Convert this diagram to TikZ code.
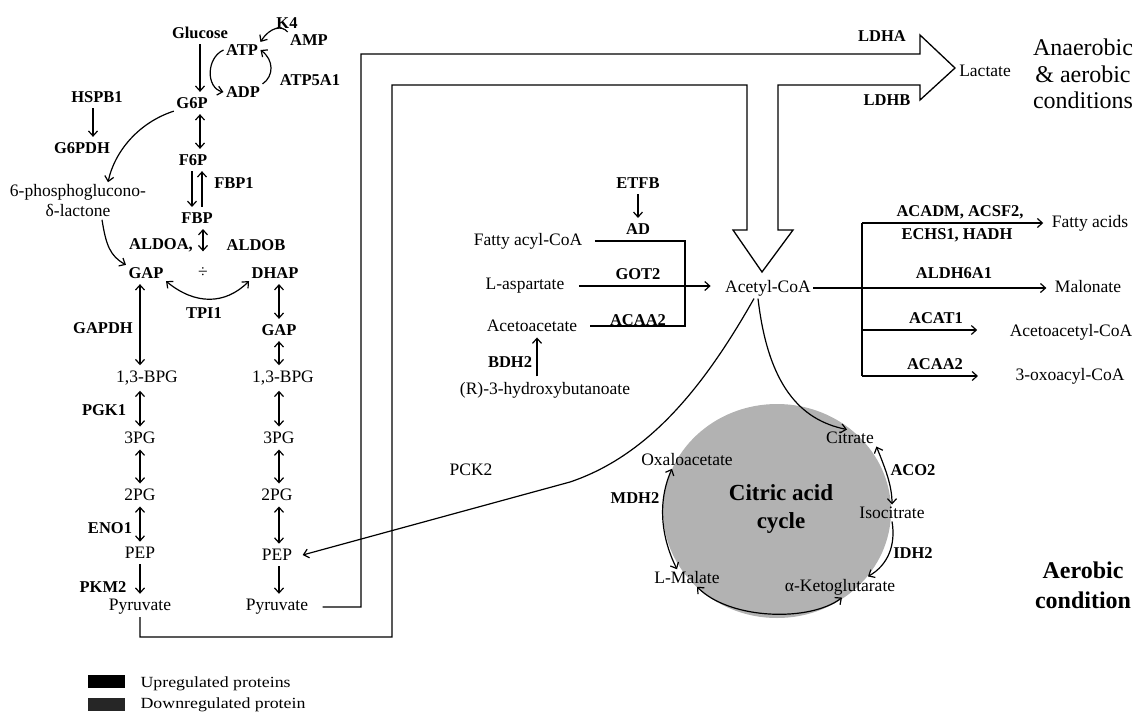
\documentclass[tikz,border=0pt]{standalone}
\usepackage{fontspec}
\usepackage{graphicx}
\setmainfont{Liberation Serif}
\usetikzlibrary{arrows.meta}

\begin{document}
\begin{tikzpicture}[
        x=1pt, y=-1pt,
        >={Straight Barb[length=5pt,width=9pt]},
        line width=1.2pt,
        met/.style={font=\fontsize{17.5}{20}\selectfont, inner sep=2pt},
        enz/.style={font=\bfseries\fontsize{16.5}{19}\selectfont, inner sep=2pt},
        cond/.style={font=\fontsize{24}{26.5}\selectfont, align=center},
        pipe/.style={line width=1.3pt, line join=miter},
        rx/.style={<->, shorten <=3pt, shorten >=3pt},
        fw/.style={->, shorten <=3pt, shorten >=3pt},
        legbox/.style={minimum width=37pt, minimum height=13pt, inner sep=0pt}
    ]
        \useasboundingbox (0,0) rectangle (1137,715);

        % glycolysis, upper part
        \node[enz] (glc) at (200,33) {Glucose};
        \node[enz] (atp) at (242,50) {ATP};
        \node[enz] (adp) at (243,92) {ADP};
        \node[enz] (kfour) at (287,23) {K4};
        \node[enz] (amp) at (309,40) {AMP};
        \node[enz] (atpsyn) at (310,80) {ATP5A1};
        \node[enz] (gsixp) at (192,103) {G6P};
        \node[enz] (hspb) at (97,97) {HSPB1};
        \node[enz] (gpdh) at (82,148) {G6PDH};
        \node[met, align=center] (pgl) at (78,201) {6-phosphoglucono-\\δ-lactone};
        \node[enz] (fsixp) at (193,160) {F6P};
        \node[enz] (fbpone) at (234,183) {FBP1};
        \node[enz] (fbp) at (197,218) {FBP};
        \node[enz] (aldoa) at (161,245) {ALDOA,};
        \node[enz] (aldob) at (256,245) {ALDOB};
        \node[enz] (gapL) at (146,273) {GAP};
        \node[met] (plus) at (203,273) {÷};
        \node[enz] (dhap) at (275,273) {DHAP};
        \node[enz] (tpi) at (204,313) {TPI1};
        \node[enz] (gapdh) at (103,328) {GAPDH};

        % glycolysis, two columns
        \node[met] (bpgL) at (147,378) {1,3-BPG};
        \node[met] (tpgL) at (140,438) {3PG};
        \node[met] (dpgL) at (140,495) {2PG};
        \node[met] (pepL) at (140,553) {PEP};
        \node[met] (pyrL) at (140,607) {Pyruvate};
        \node[enz] (pgk) at (104,410) {PGK1};
        \node[enz] (eno) at (110,528) {ENO1};
        \node[enz] (pkm) at (103,587) {PKM2};
        \node[enz] (gapR) at (279,330) {GAP};
        \node[met] (bpgR) at (283,378) {1,3-BPG};
        \node[met] (tpgR) at (279,438) {3PG};
        \node[met] (dpgR) at (277,495) {2PG};
        \node[met] (pepR) at (277,555) {PEP};
        \node[met] (pyrR) at (277,607) {Pyruvate};

        \draw[fw] (glc) -- (gsixp.north -| glc);
        \draw[rx] (gsixp.south -| glc) -- (fsixp.north -| glc);
        \draw[fw] ([xshift=-1pt]fsixp.south) -- ([xshift=-1pt]fsixp.south |- fbp.north);
        \draw[fw] ([xshift=9pt]fsixp.south |- fbp.north) -- ([xshift=9pt]fsixp.south);
        \draw[rx] ([xshift=6pt]fbp.south) -- ([xshift=6pt]fbp.south |- aldoa.south);
        \draw[fw] ([xshift=-4pt]hspb.south) -- ([xshift=-4pt]hspb.south |- gpdh.north);
        \draw[->] (gsixp.south west) .. controls (140,122) and (115,150) .. ([xshift=30pt]pgl.north);
        \draw[->] ([xshift=24pt]pgl.south) .. controls (106,245) and (110,256) .. (gapL.north west);
        \draw[<->] (gapL.south east) .. controls (195,305) and (225,305) .. (dhap.south west);
        \draw[->] (atp.west) .. controls (206,58) and (206,88) .. (adp.west);
        \draw[->] (adp.north east) .. controls (274,76) and (274,60) .. (atp.east);
        \draw[->] (amp.north west) .. controls (282,25) and (270,27) .. (atp.north east);

        \draw[rx] (gapL.south -| pyrL) -- (bpgL.north -| pyrL);
        \draw[rx] (bpgL.south -| pyrL) -- (tpgL.north);
        \draw[rx] (tpgL) -- (dpgL);
        \draw[rx] (dpgL) -- (pepL);
        \draw[fw] (pepL) -- (pyrL);
        \draw[rx] (dhap.south -| tpgR) -- (gapR.north -| tpgR);
        \draw[rx] (gapR) -- (bpgR.north -| gapR);
        \draw[rx] (bpgR.south -| gapR) -- (tpgR);
        \draw[rx] (tpgR) -- (dpgR.north -| tpgR);
        \draw[rx] (dpgR.south -| tpgR) -- (pepR.north -| tpgR);
        \draw[fw] (pepR.south -| tpgR) -- (pyrR.north -| tpgR);

        % pyruvate pipe to lactate and acetyl-CoA
        \draw[pipe] (pyrL.south) |- (392,637) -- (392,85) -| (747,230) -- (733,230)
            -- (762,272) -- (793,230) -- (778,230) |- (920,85) -- (920,100)
            -- (955,68) -- (920,35) -- (920,54) -| (361,607) -- ([xshift=12pt]pyrR.east);
        \node[enz] (ldha) at (882,36) {LDHA};
        \node[enz] (ldhb) at (887,100) {LDHB};
        \node[met] (lac) at (985,71) {Lactate};
        \node[cond] (anaer) at (1083,74) {Anaerobic\\\& aerobic\\conditions};
        \node[cond, font=\bfseries\fontsize{24}{30}\selectfont] (aer) at (1083,585) {Aerobic\\condition};

        % inputs to acetyl-CoA
        \node[enz] (etfb) at (638,183) {ETFB};
        \node[enz] (ad) at (638,229) {AD};
        \node[met] (facoa) at (528,241) {Fatty acyl-CoA};
        \node[met] (asp) at (525,286) {L-aspartate};
        \node[enz] (got) at (638,274) {GOT2};
        \node[met] (acac) at (532,326) {Acetoacetate};
        \node[enz] (acaa) at (638,320) {ACAA2};
        \node[enz] (bdh) at (510,362) {BDH2};
        \node[met] (hbut) at (545,390) {(R)-3-hydroxybutanoate};
        \node[met] (acoa) at (768,288) {Acetyl-CoA};

        \draw[fw] (etfb) -- (ad);
        \draw ([xshift=10pt]facoa.east) -| (685,300) |- ([xshift=10pt]acac.east);
        \draw[->] ([xshift=12pt]asp.east) -- ([xshift=-12pt]asp.east -| acoa.west);
        \draw[fw] ([xshift=-8pt]hbut.north) -- ([xshift=-8pt]hbut.north |- acac.south);

        % outputs of acetyl-CoA
        \coordinate (brtop) at (862,223);
        \coordinate (brbot) at (862,376);
        \node[met] (fatty) at (1090,223) {Fatty acids};
        \node[met] (malo) at (1088,287) {Malonate};
        \node[met] (aacoa) at (1071,332) {Acetoacetyl-CoA};
        \node[met] (oxo) at (1070,376) {3-oxoacyl-CoA};
        \node[enz] (acadm) at (960,212) {ACADM, ACSF2,};
        \node[enz] (echs) at (957,235) {ECHS1, HADH};
        \node[enz] (aldh) at (954,273) {ALDH6A1};
        \node[enz] (acat) at (936,318) {ACAT1};
        \node[enz] (acaab) at (935,364) {ACAA2};

        \draw (brtop) -- (brbot);
        \draw[->, shorten >=6pt] (brtop) -- (fatty.west |- brtop);
        \draw[->, shorten >=6pt] (acoa.east) -- (acoa.east -| malo.west);
        \draw[->] (brtop |- 0,330) -- ([xshift=-30pt]aacoa.west |- 0,330);
        \draw[->] (brbot) -- ([xshift=-35pt]oxo.west |- brbot);

        % citric acid cycle
        \fill[black!30] (777,511) ellipse [x radius=114pt, y radius=107pt];
        \node[met] (cit) at (850,438) {Citrate};
        \node[met] (oaa) at (687,460) {Oxaloacetate};
        \node[met] (icit) at (892,513) {Isocitrate};
        \node[met] (mal) at (687,578) {L-Malate};
        \node[met] (akg) at (840,587) {α-Ketoglutarate};
        \node[enz] (aco) at (913,470) {ACO2};
        \node[enz] (idh) at (913,553) {IDH2};
        \node[enz] (mdh) at (635,498) {MDH2};
        \node[font=\bfseries\fontsize{23}{28}\selectfont, align=center] (tca) at (781,509) {Citric acid\\cycle};

        \draw[<->] (cit.south east) .. controls (885,468) and (892,485) .. (icit.north);
        \draw[->] (icit.south) .. controls (896,545) and (888,565) .. ([xshift=28pt]akg.north);
        \draw[<->] ([xshift=2pt]akg.south) .. controls (810,622) and (730,620) .. ([xshift=10pt]mal.south);
        \draw[<->] ([xshift=-15pt]oaa.south) .. controls (658,500) and (660,535) .. ([xshift=-10pt]mal.north);
        \draw[->] ([xshift=-10pt]acoa.south) .. controls (768,385) and (800,420) .. ([xshift=-3pt]cit.north);
        \draw[->] ([xshift=-14pt]acoa.south) .. controls (705,385) and (650,455) .. (570,482)
            -- ([xshift=8pt]pepR.east);
        \node[met] (pck) at (471,470) {PCK2};

        % legend
        \node[legbox, fill=black] (up) at (106.5,681.5) {};
        \node[legbox, fill=black!85] (down) at (106.5,704.5) {};
        \node[font=\fontsize{15.5}{17}\selectfont, anchor=west, inner sep=0pt] (uptext) at (140,684) {\scalebox{1.15}[1]{Upregulated proteins}};
        \node[font=\fontsize{15.5}{17}\selectfont, anchor=west, inner sep=0pt] (downtext) at (140,705) {\scalebox{1.15}[1]{Downregulated protein}};
\end{tikzpicture}
\end{document}
